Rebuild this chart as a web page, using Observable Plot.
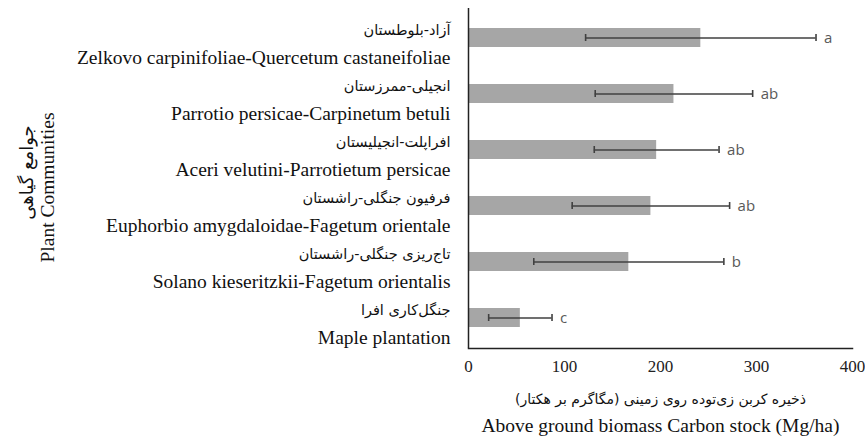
<!DOCTYPE html>
<html>
<head>
<meta charset="utf-8">
<script src="https://cdn.jsdelivr.net/npm/d3@7"></script>
<script src="https://cdn.jsdelivr.net/npm/@observablehq/plot@0.6"></script>
<style>
  html, body { margin: 0; padding: 0; background: #fff; }
  #chart svg { display: block; }
</style>
</head>
<body>
<div id="chart"></div>
<script>
const communitiesEn = [
  "Zelkovo carpinifoliae-Quercetum castaneifoliae",
  "Parrotio persicae-Carpinetum betuli",
  "Aceri velutini-Parrotietum persicae",
  "Euphorbio amygdaloidae-Fagetum orientale",
  "Solano kieseritzkii-Fagetum orientalis",
  "Maple plantation"
];
const communitiesFa = [
  "آزاد-بلوطستان",
  "انجیلی-ممرزستان",
  "افراپلت-انجیلیستان",
  "فرفیون جنگلی-راشستان",
  "تاج‌ریزی جنگلی-راشستان",
  "جنگل‌کاری افرا"
];
const meanCarbon = [242, 214, 196, 190, 167, 54];
const sdCarbon = [120, 82, 65, 82, 99, 33];
const groupLetters = ["a", "ab", "ab", "ab", "b", "c"];
const xTicks = [0, 100, 200, 300, 400];
const xTitleFa = "ذخیره کربن زی‌توده روی زمینی (مگاگرم بر هکتار)";
const xTitleEn = "Above ground biomass Carbon stock (Mg/ha)";
const yTitleFa = "جوامع گیاهی";
const yTitleEn = "Plant Communities";

const rows = communitiesEn.map((en, i) => ({
  en, fa: communitiesFa[i], mean: meanCarbon[i], sd: sdCarbon[i],
  lo: meanCarbon[i] - sdCarbon[i], hi: meanCarbon[i] + sdCarbon[i],
  letter: groupLetters[i]
}));

const serif = "'Liberation Serif', 'Times New Roman', serif";
const persian = "'DejaVu Sans', 'Noto Sans', sans-serif";

const chart = Plot.plot({
  width: 865,
  height: 446,
  marginLeft: 468,
  marginRight: 13,
  marginTop: 8,
  marginBottom: 98,
  style: { background: "#fff", overflow: "visible" },
  x: { domain: [0, 400] },
  y: { domain: communitiesEn, paddingInner: 0.656, paddingOuter: 0.328, axis: null },
  marks: [
    Plot.barX(rows, { y: "en", x: "mean", fill: "#a6a6a6" }),
    Plot.ruleY(rows, { y: "en", x1: "lo", x2: "hi", stroke: "#404040", strokeWidth: 1.6 }),
    Plot.tickX(rows, { y: "en", x: "lo", stroke: "#404040", strokeWidth: 1.6, insetTop: 6, insetBottom: 6 }),
    Plot.tickX(rows, { y: "en", x: "hi", stroke: "#404040", strokeWidth: 1.6, insetTop: 6, insetBottom: 6 }),
    Plot.text(rows, { y: "en", x: "hi", text: "letter", dx: 8, textAnchor: "start",
      fill: "#595959", fontSize: 15, fontFamily: "'Open Sans', 'DejaVu Sans', sans-serif" }),
    Plot.ruleX([0], { stroke: "#222", strokeWidth: 1.5 }),
    Plot.frame({ anchor: "bottom", stroke: "#222", strokeWidth: 1.5 }),
    Plot.axisX(xTicks, { tickSize: 0, tickPadding: 11, fontSize: 17, fontFamily: serif, fill: "#222", label: null }),
    Plot.text(rows, { y: "en", text: "en", frameAnchor: "left", textAnchor: "end", dx: -18, dy: 20,
      fontSize: 19.5, fontFamily: serif, fill: "#111" }),
    Plot.text(rows, { y: "en", text: "fa", frameAnchor: "left", textAnchor: "end", dx: -18, dy: -8,
      fontSize: 14.5, fontFamily: persian, fill: "#111" }),
    Plot.text([xTitleFa], { text: d => d, frameAnchor: "bottom", dy: 55, fontSize: 14, fontFamily: persian, fill: "#111" }),
    Plot.text([xTitleEn], { text: d => d, frameAnchor: "bottom", dy: 83, fontSize: 19.5, fontFamily: serif, fill: "#111" }),
    Plot.text([yTitleEn], { text: d => d, frameAnchor: "left", textAnchor: "middle", rotate: -90, dx: -421, dy: 9,
      fontSize: 19.5, fontFamily: serif, fill: "#111" }),
    Plot.text([yTitleFa], { text: d => d, frameAnchor: "left", textAnchor: "middle", rotate: -90, dx: -441, dy: -6,
      fontSize: 18, fontFamily: persian, fill: "#111" })
  ]
});
document.getElementById("chart").appendChild(chart);
</script>
</body>
</html>
